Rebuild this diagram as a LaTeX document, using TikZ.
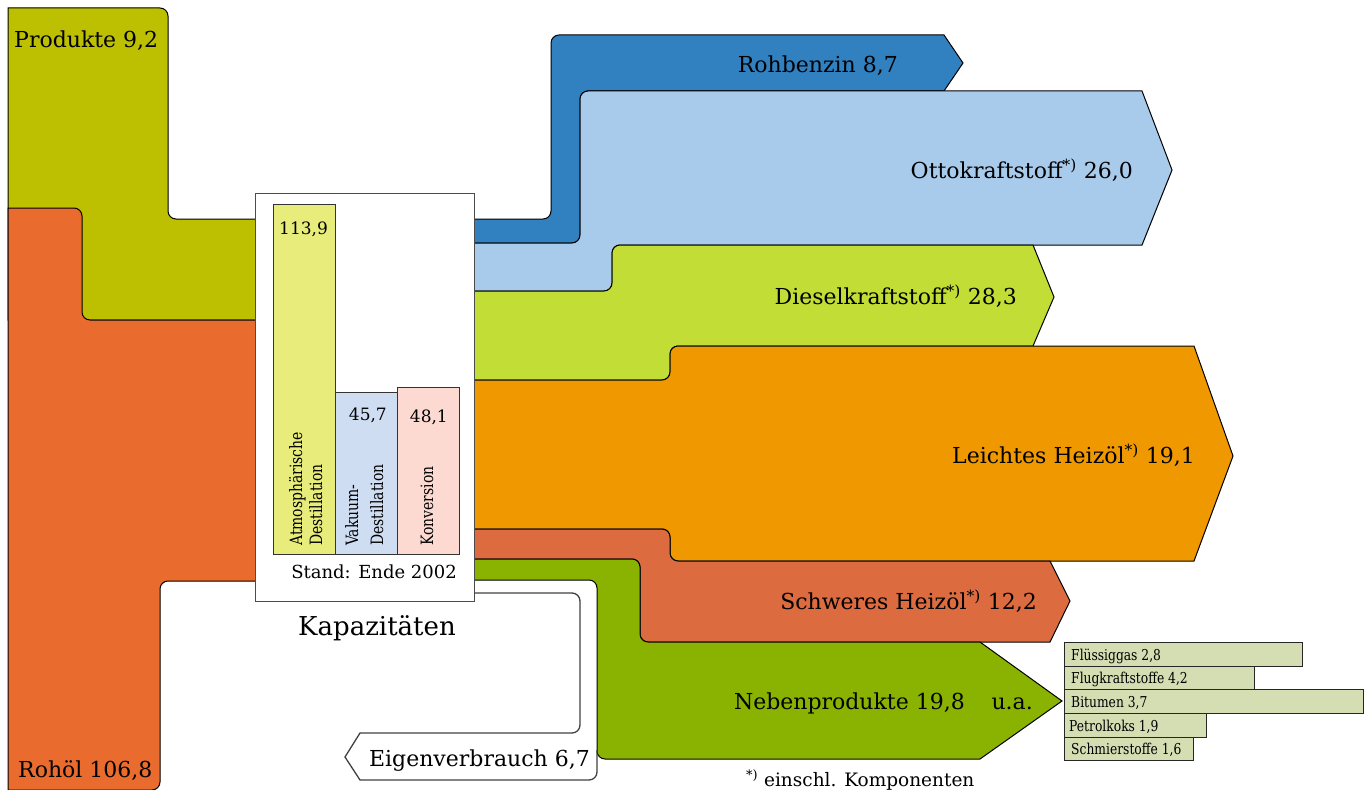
\documentclass[tikz,border=0pt]{standalone}
\usepackage{fontspec}
\setmainfont{DejaVu Serif}
\newfontfamily\condfont[FakeStretch=0.82]{DejaVu Serif}
\definecolor{cOlive}{RGB}{189,192,0}
\definecolor{cCrude}{RGB}{233,108,46}
\definecolor{cDB}{RGB}{49,128,192}
\definecolor{cLB}{RGB}{169,203,235}
\definecolor{cDiesel}{RGB}{194,221,53}
\definecolor{cLHO}{RGB}{239,152,0}
\definecolor{cSHO}{RGB}{220,107,64}
\definecolor{cNeben}{RGB}{138,178,0}
\definecolor{cAtm}{RGB}{232,236,122}
\definecolor{cVak}{RGB}{207,221,243}
\definecolor{cKonv}{RGB}{252,218,210}
\definecolor{cList}{RGB}{213,221,179}
\tikzset{
  flow/.style={draw=black, line width=1pt},
  evline/.style={draw=black!75, line width=1.3pt},
  bar/.style={draw=black!80, line width=1pt},
  item/.style={draw=black!85, line width=1pt, fill=cList},
  big/.style={font=\fontsize{22}{26}\selectfont, inner sep=0pt},
  mid/.style={font=\fontsize{17}{20}\selectfont, inner sep=0pt},
  rot/.style={font=\condfont\fontsize{17}{20}\selectfont, inner sep=0pt, rotate=90, anchor=base west},
  itemlbl/.style={font=\condfont\fontsize{15}{18}\selectfont, inner sep=0pt, anchor=base west},
}
\begin{document}
\begin{tikzpicture}[x=1pt,y=-1pt]
\useasboundingbox (0,0) rectangle (1364,789);
% Produkte (olive)
\filldraw[flow, fill=cOlive] (8,300) -- (8,8) [rounded corners=8pt] -- (168,8) -- (168,219) [sharp corners] -- (262,219) -- (262,320) -- (8,320) -- cycle;
% Rohoel (orange)
\filldraw[flow, fill=cCrude] (8,795) -- (8,208) [rounded corners=8pt] -- (82,208) -- (82,320) [sharp corners] -- (262,320) -- (262,581) [rounded corners=8pt] -- (160,581) -- (160,790) [sharp corners] -- (8,790) -- cycle;
% Rohbenzin
\filldraw[flow, fill=cDB] (468,243) -- (468,219) [rounded corners=8pt] -- (551,219) -- (551,35) [sharp corners] -- (944,35) -- (963,63) -- (944,91) [rounded corners=8pt] -- (580,91) -- (580,243) [sharp corners] -- (468,243) -- cycle;
% Ottokraftstoff
\filldraw[flow, fill=cLB] (468,291) -- (468,243) [rounded corners=8pt] -- (580,243) -- (580,91) [sharp corners] -- (1142,91) -- (1172,170) -- (1142,245) [rounded corners=8pt] -- (612,245) -- (612,291) [sharp corners] -- (468,291) -- cycle;
% Dieselkraftstoff
\filldraw[flow, fill=cDiesel] (468,380) -- (468,291) [rounded corners=8pt] -- (612,291) -- (612,245) [sharp corners] -- (1033,245) -- (1054,297) -- (1033,346) [rounded corners=8pt] -- (670,346) -- (670,380) [sharp corners] -- (468,380) -- cycle;
% Leichtes Heizoel
\filldraw[flow, fill=cLHO] (468,529) -- (468,380) [rounded corners=8pt] -- (670,380) -- (670,346) [sharp corners] -- (1194,346) -- (1233,456) -- (1194,561) [rounded corners=8pt] -- (670,561) -- (670,529) [sharp corners] -- (468,529) -- cycle;
% Schweres Heizoel
\filldraw[flow, fill=cSHO] (468,559) -- (468,529) [rounded corners=8pt] -- (670,529) -- (670,561) [sharp corners] -- (1050,561) -- (1070,601) -- (1050,642) [rounded corners=8pt] -- (640,642) -- (640,559) [sharp corners] -- (468,559) -- cycle;
% Nebenprodukte
\filldraw[flow, fill=cNeben] (468,580) -- (468,559) [rounded corners=8pt] -- (640,559) -- (640,642) [sharp corners] -- (980,642) -- (1062,701) -- (980,759) [rounded corners=8pt] -- (597,759) -- (597,580) [sharp corners] -- (468,580) -- cycle;
% Eigenverbrauch
\draw[evline] (468,593) [rounded corners=8pt] -- (580,593) -- (580,733) [sharp corners] -- (360,733) -- (345,757) -- (360,780) [rounded corners=8pt] -- (597,780) [sharp corners] -- (597,750);
% Kapazitaeten box
\filldraw[draw=black!70, fill=white, line width=1pt] (255,193) rectangle (474,601);
\filldraw[bar, fill=cAtm] (273,204) rectangle (335,554);
\filldraw[bar, fill=cVak] (335,392) rectangle (397,554);
\filldraw[bar, fill=cKonv] (397,387) rectangle (459,554);
\node[mid, anchor=base west] (v1) at (279,234) {113,9};
\node[mid, anchor=base east] (v2) at (387,420) {45,7};
\node[mid, anchor=base east] (v3) at (448,422) {48,1};
\node[rot] (a1) at (302,546) {Atmosphärische};
\node[rot] (a2) at (322,546) {Destillation};
\node[rot] (b1) at (358,546) {Vakuum-};
\node[rot] (b2) at (383,546) {Destillation};
\node[rot] (c1) at (433,546) {Konversion};
\node[mid, anchor=base east, font=\fontsize{18}{21}\selectfont] (stand) at (457,578) {Stand: Ende 2002};
\node[big, anchor=base, font=\fontsize{26}{30}\selectfont] (kap) at (377,635) {Kapazitäten};
% list
\filldraw[item] (1064,642) rectangle (1302,666);
\filldraw[item] (1064,666) rectangle (1254,689);
\filldraw[item] (1064,689) rectangle (1363,713);
\filldraw[item] (1064,713) rectangle (1206,737);
\filldraw[item] (1064,737) rectangle (1193,760);
\node[itemlbl] (l1) at (1071,660) {Flüssiggas 2,8};
\node[itemlbl] (l2) at (1071,683) {Flugkraftstoffe 4,2};
\node[itemlbl] (l3) at (1071,707) {Bitumen 3,7};
\node[itemlbl] (l4) at (1069,731) {Petrolkoks 1,9};
\node[itemlbl] (l5) at (1071,754) {Schmierstoffe 1,6};
% labels
\node[big, anchor=base west] (produkte) at (14,48) {Produkte 9,2};
\node[big, anchor=base west] (rohoel) at (18,777) {Rohöl 106,8};
\node[big, anchor=base east] (rohbenzin) at (898,73) {Rohbenzin 8,7};
\node[big, anchor=base east] (otto) at (1133,178) {Ottokraftstoff\textsuperscript{*)} 26,0};
\node[big, anchor=base east] (diesel) at (1017,304) {Dieselkraftstoff\textsuperscript{*)} 28,3};
\node[big, anchor=base east] (lho) at (1195,463) {Leichtes Heizöl\textsuperscript{*)} 19,1};
\node[big, anchor=base east] (sho) at (1037,609) {Schweres Heizöl\textsuperscript{*)} 12,2};
\node[big, anchor=base east] (neben) at (965,709) {Nebenprodukte 19,8};
\node[big, anchor=base east] (ua) at (1033,709) {u.a.};
\node[big, anchor=base east] (eigen) at (590,766) {Eigenverbrauch 6,7};
\node[mid, anchor=base west, font=\fontsize{18.5}{22}\selectfont] (fn) at (746,786) {\textsuperscript{*)} einschl. Komponenten};
\end{tikzpicture}
\end{document}
